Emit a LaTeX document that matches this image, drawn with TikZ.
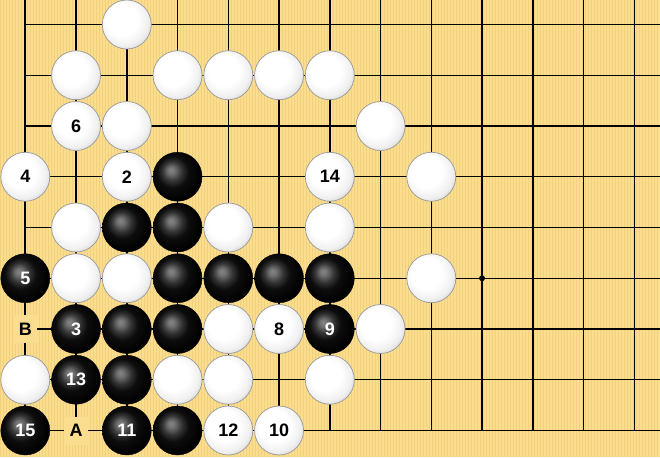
\documentclass[tikz,border=0pt]{standalone}
\usepackage{fontspec}
\setmainfont{Liberation Sans}
\definecolor{board}{RGB}{250,221,143}
\definecolor{stripe}{RGB}{243,208,122}
\pgfdeclareradialshading{wstone}{\pgfpoint{-7bp}{7bp}}{rgb(0bp)=(1,1,1); rgb(16bp)=(1,1,1); rgb(25bp)=(0.94,0.94,0.94); rgb(31bp)=(0.83,0.83,0.83); rgb(35bp)=(0.73,0.73,0.73); rgb(50bp)=(0.7,0.7,0.7)}
\pgfdeclareradialshading{bstone}{\pgfpoint{-7bp}{7bp}}{rgb(0bp)=(0.52,0.52,0.52); rgb(3.5bp)=(0.45,0.45,0.45); rgb(10bp)=(0.2,0.2,0.2); rgb(16bp)=(0.05,0.05,0.05); rgb(27bp)=(0,0,0); rgb(34bp)=(0.18,0.18,0.18); rgb(50bp)=(0.2,0.2,0.2)}
\tikzset{
  stone/.style={circle, minimum size=49pt, inner sep=0pt, font=\bfseries\fontsize{18}{18}\selectfont},
  wst/.style={stone, shade, shading=wstone, draw=black!40, line width=0.7pt, text=black},
  bst/.style={stone, shade, shading=bstone, draw=black, line width=0.4pt, text=white},
  lbl/.style={fill=board, inner sep=0pt, minimum width=24pt, minimum height=28pt, font=\bfseries\fontsize{18}{18}\selectfont},
  gridline/.style={line width=1.4pt},
  edgeline/.style={line width=1.9pt},
}
\begin{document}
\begin{tikzpicture}[x=50.75pt,y=-50.75pt]
\useasboundingbox (-25.3pt,24.5pt) rectangle (634.7pt,-432.5pt);
\fill[board] (-25.3pt,24.5pt) rectangle (634.7pt,-432.5pt);
\foreach \k in {0,...,219} \fill[stripe] ({-25.3pt+\k*3pt},24.5pt) rectangle +(1pt,-457pt);
% grid
\foreach \i in {1,...,12} \draw[gridline] ({\i*50.75pt},24.5pt) -- ({\i*50.75pt},-406pt);
\foreach \j in {0,...,7} \draw[gridline] (0pt,{-\j*50.75pt}) -- (634.7pt,{-\j*50.75pt});
\draw[edgeline] (0pt,24.5pt) -- (0pt,-406pt) -- (634.7pt,-406pt);
\fill (9,5) circle (3pt);
% row 0
\node[wst] (w02) at (2,0) {};
% row 1
\node[wst] (w11) at (1,1) {};
\node[wst] (w13) at (3,1) {};
\node[wst] (w14) at (4,1) {};
\node[wst] (w15) at (5,1) {};
\node[wst] (w16) at (6,1) {};
% row 2
\node[wst] (w21) at (1,2) {6};
\node[wst] (w22) at (2,2) {};
\node[wst] (w27) at (7,2) {};
% row 3
\node[wst] (w30) at (0,3) {4};
\node[wst] (w32) at (2,3) {2};
\node[bst] (b33) at (3,3) {};
\node[wst] (w36) at (6,3) {14};
\node[wst] (w38) at (8,3) {};
% row 4
\node[wst] (w41) at (1,4) {};
\node[bst] (b42) at (2,4) {};
\node[bst] (b43) at (3,4) {};
\node[wst] (w44) at (4,4) {};
\node[wst] (w46) at (6,4) {};
% row 5
\node[bst] (b50) at (0,5) {5};
\node[wst] (w51) at (1,5) {};
\node[wst] (w52) at (2,5) {};
\node[bst] (b53) at (3,5) {};
\node[bst] (b54) at (4,5) {};
\node[bst] (b55) at (5,5) {};
\node[bst] (b56) at (6,5) {};
\node[wst] (w58) at (8,5) {};
% row 6
\node[lbl] (lB) at (0,6) {B};
\node[bst] (b61) at (1,6) {3};
\node[bst] (b62) at (2,6) {};
\node[bst] (b63) at (3,6) {};
\node[wst] (w64) at (4,6) {};
\node[wst] (w65) at (5,6) {8};
\node[bst] (b66) at (6,6) {9};
\node[wst] (w67) at (7,6) {};
% row 7
\node[wst] (w70) at (0,7) {};
\node[bst] (b71) at (1,7) {13};
\node[bst] (b72) at (2,7) {};
\node[wst] (w73) at (3,7) {};
\node[wst] (w74) at (4,7) {};
\node[wst] (w76) at (6,7) {};
% row 8
\node[bst] (b80) at (0,8) {15};
\node[lbl] (lA) at (1,8) {A};
\node[bst] (b82) at (2,8) {11};
\node[bst] (b83) at (3,8) {};
\node[wst] (w84) at (4,8) {12};
\node[wst] (w85) at (5,8) {10};
\end{tikzpicture}
\end{document}
